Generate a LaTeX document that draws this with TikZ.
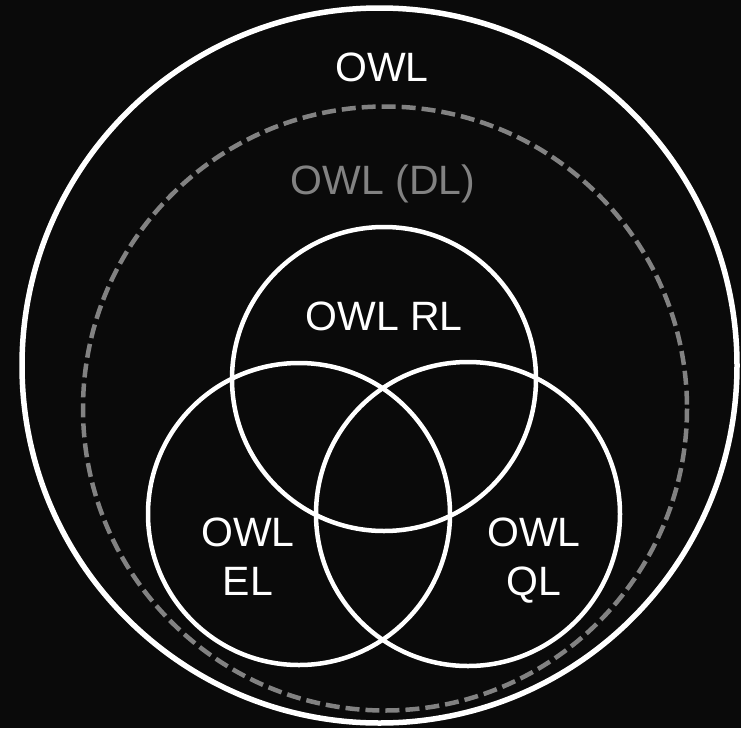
\documentclass[tikz,border=0pt]{standalone}
\usepackage{fontspec}
\setmainfont{Liberation Sans}
\begin{document}
\begin{tikzpicture}[x=1pt,y=-1pt,
  ring/.style={draw=white,line width=4.5pt},
  outerring/.style={draw=white,line width=5.5pt},
  dlring/.style={draw=dlgray,line width=4.5pt,dash pattern=on 14pt off 6pt},
  lbl/.style={text=white,font=\fontsize{41}{49}\selectfont,anchor=base,inner sep=0pt,align=center},
  dllbl/.style={lbl,text=dlgray}]
\definecolor{bg}{HTML}{0A0A0A}
\definecolor{dlgray}{HTML}{828282}
\fill[bg] (0,0) rectangle (741,728);
\useasboundingbox (0,0) rectangle (741,728);
\draw[outerring] (379.5,365.5) circle (357.5);
\draw[dlring] (385,408.5) circle (302);
\draw[ring] (384,379) circle (152);
\draw[ring] (299,514) circle (151);
\draw[ring] (468,514) circle (152);
\node[lbl] (owl) at (382,81) {OWL};
\node[dllbl] (dl) at (383,194) {OWL (DL)};
\node[lbl] (rl) at (384,330) {OWL RL};
\node[lbl,anchor=north] (el) at (248,518) {OWL\\EL};
\node[lbl,anchor=north] (ql) at (534,518) {OWL\\QL};
\end{tikzpicture}
\end{document}
